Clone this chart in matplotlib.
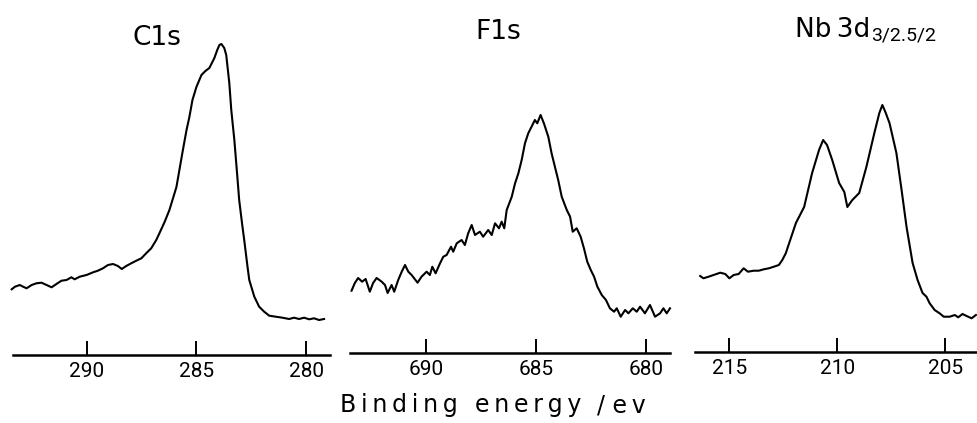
import matplotlib
matplotlib.use("Agg")
import matplotlib.pyplot as plt
from matplotlib.ticker import FixedLocator
from matplotlib import font_manager

# ---------------- data (binding energy in eV, intensity in arbitrary units) ----------------
c1s_energy = [293.42, 293.27, 293.05, 292.90, 292.74, 292.51, 292.29, 292.06, 291.83, 291.60,
              291.38, 291.15, 290.92, 290.70, 290.55, 290.32, 290.01, 289.71, 289.49, 289.26,
              289.03, 288.80, 288.58, 288.40, 288.20, 287.97, 287.74, 287.51, 287.29, 287.06,
              286.83, 286.68, 286.45, 286.23, 285.91, 285.64, 285.45, 285.32, 285.18, 285.00,
              284.77, 284.59, 284.41, 284.18, 284.05, 283.95, 283.86, 283.73, 283.64, 283.50,
              283.41, 283.27, 283.14, 283.05, 282.91, 282.82, 282.68, 282.59, 282.36, 282.14,
              281.91, 281.68, 281.38, 281.08, 280.77, 280.55, 280.32, 280.09, 279.86, 279.64,
              279.41, 279.18]
c1s_counts = [65.7, 68.3, 70, 68.3, 66.7, 70, 71.7, 72.3, 70, 67.7,
              71, 74.3, 75, 77.7, 75.7, 78.3, 80, 82.7, 84.3, 86.7,
              90, 91, 89, 86, 89, 91.7, 94.3, 96.7, 101.7, 106.7,
              115, 122, 133, 145, 168, 202, 225, 238, 255, 268,
              280, 284, 287, 297, 305, 310, 311, 307, 300, 272,
              245, 215, 180, 155, 130, 115, 90, 75, 58.3, 48.3,
              43.3, 39.3, 38.3, 37.3, 36, 37.3, 36, 37.3, 35.7, 36.7,
              35, 36]

f1s_energy = [693.38, 693.23, 693.08, 692.90, 692.74, 692.55, 692.40, 692.24, 692.01, 691.86,
              691.74, 691.56, 691.44, 691.26, 691.10, 690.95, 690.80, 690.65, 690.38, 690.20,
              689.97, 689.82, 689.71, 689.56, 689.36, 689.21, 689.06, 688.86, 688.76, 688.60,
              688.38, 688.23, 688.08, 687.92, 687.77, 687.55, 687.40, 687.17, 687.01, 686.86,
              686.68, 686.56, 686.44, 686.33, 686.10, 685.95, 685.80, 685.65, 685.50, 685.35,
              685.20, 685.05, 684.94, 684.79, 684.64, 684.44, 684.29, 684.14, 683.99, 683.83,
              683.60, 683.45, 683.33, 683.15, 682.97, 682.82, 682.67, 682.51, 682.36, 682.21,
              682.01, 681.82, 681.64, 681.45, 681.33, 681.15, 680.95, 680.80, 680.60, 680.42,
              680.27, 680.05, 679.82, 679.59, 679.36, 679.21, 679.06, 678.91]
f1s_counts = [62.3, 70, 75, 71.3, 74, 61.3, 70, 75, 71.3, 68,
              60, 68, 61.3, 73, 81.3, 88, 81.3, 78, 70.3, 76.3,
              81.3, 78, 86.3, 79.7, 89.7, 96.3, 98, 106.3, 101.3, 109.7,
              113, 108, 119.7, 128, 118, 121.3, 116.3, 123, 118, 129.7,
              124.7, 131.3, 124.7, 143, 156.3, 169.7, 179.7, 193, 209.7, 219.7,
              226.3, 233, 229.7, 238, 229.7, 216.3, 199.7, 186.3, 173, 156.3,
              143, 136.3, 121.3, 124.7, 116.3, 104.7, 91.3, 83, 76.3, 66.3,
              58, 53, 44.7, 41.3, 44.7, 36.3, 43, 39.7, 44.7, 41.3,
              46.3, 39.7, 48, 36.3, 39.7, 44.7, 39.7, 44.7]

nb_energy = [216.34, 216.19, 215.95, 215.72, 215.41, 215.18, 214.99, 214.79, 214.56, 214.33,
             214.13, 213.86, 213.63, 213.40, 213.16, 212.93, 212.70, 212.54, 212.38, 211.91,
             211.53, 211.16, 210.84, 210.65, 210.47, 210.23, 209.91, 209.67, 209.53, 209.30,
             208.98, 208.65, 208.28, 208.05, 207.91, 207.77, 207.58, 207.26, 207.02, 206.79,
             206.51, 206.28, 206.05, 205.87, 205.72, 205.49, 205.26, 205.07, 204.79, 204.56,
             204.40, 204.20, 204.01, 203.78, 203.58]
nb_counts = [76, 73.7, 75.3, 77, 79.3, 78, 73.7, 77, 78, 83.7,
             80.3, 81.3, 81.3, 82.7, 83.7, 85.3, 87, 92, 98.7, 129,
             145, 179, 202, 212, 207, 192, 169, 160, 145, 152,
             159, 185, 219, 239, 247, 240, 229, 199, 162, 125,
             89, 72, 59, 55.3, 48.7, 42, 38.7, 35.3, 35.3, 37,
             34.7, 38, 36, 33.7, 37]

c1s_ticks = [290, 285, 280]
f1s_ticks = [690, 685, 680]
nb_ticks = [215, 210, 205]

titles = ["C1s", "F1s", "Nb\u20093d"]
nb_subscript = "3/2.5/2"
xlabel_words = ["B\u2009i\u2009n\u2009d\u2009i\u2009n\u2009g",
                "e\u2009n\u2009e\u2009r\u2009g\u2009y",
                "/ e\u2009v"]

# ---------------- fonts ----------------
installed = {f.name for f in font_manager.fontManager.ttflist}
narrow = next((n for n in ["Liberation Sans Narrow", "DejaVu Sans Condensed", "Roboto"]
               if n in installed), "DejaVu Sans")

# ---------------- layout (pixel based) ----------------
W, H = 977, 423
fig = plt.figure(figsize=(W / 100, H / 100), dpi=100)
fig.patch.set_facecolor("white")

TOP = 40
panels = [
    (13, 330, 355, (293.36, 278.91), c1s_ticks, c1s_energy, c1s_counts),
    (350, 670, 353, (693.45, 678.91), f1s_ticks, f1s_energy, f1s_counts),
    (695, 977, 352, (216.58, 203.53), nb_ticks, nb_energy, nb_counts),
]

tick_font = dict(family=[narrow, "DejaVu Sans"], size=15)

for left, right, bottom, xlim, ticks, en, ct in panels:
    ax = fig.add_axes([left / W, (H - bottom) / H, (right - left) / W, (bottom - TOP) / H])
    ax.plot(en, ct, color="black", lw=1.5, clip_on=False, solid_joinstyle="round")
    ax.set_xlim(*xlim)
    ax.set_ylim(0, bottom - TOP)
    for s in ("top", "left", "right"):
        ax.spines[s].set_visible(False)
    ax.spines["bottom"].set_linewidth(1.8)
    ax.set_yticks([])
    ax.xaxis.set_major_locator(FixedLocator(ticks))
    ax.tick_params(axis="x", direction="in", length=10, width=1.4, pad=5)
    ax.set_xticklabels([str(t) for t in ticks], **tick_font)
    ax.patch.set_alpha(0)


def fx(px):
    return px / W


def fy(py):
    return 1 - py / H


title_font = dict(family=["DejaVu Sans"], size=19, color="black")
fig.text(fx(157), fy(45), titles[0], ha="center", va="baseline", **title_font)
fig.text(fx(498), fy(39), titles[1], ha="center", va="baseline", **title_font)
fig.text(fx(795), fy(37), titles[2], ha="left", va="baseline", **title_font)
fig.text(fx(871), fy(40), nb_subscript, ha="left", va="baseline",
         family=[narrow, "DejaVu Sans"], size=14)

label_font = dict(family=["DejaVu Sans"], size=17, color="black")
for word, x0 in zip(xlabel_words, [340, 475, 597]):
    fig.text(fx(x0), fy(412), word, ha="left", va="baseline", **label_font)

fig.savefig("out.png", dpi=100, facecolor="white")
